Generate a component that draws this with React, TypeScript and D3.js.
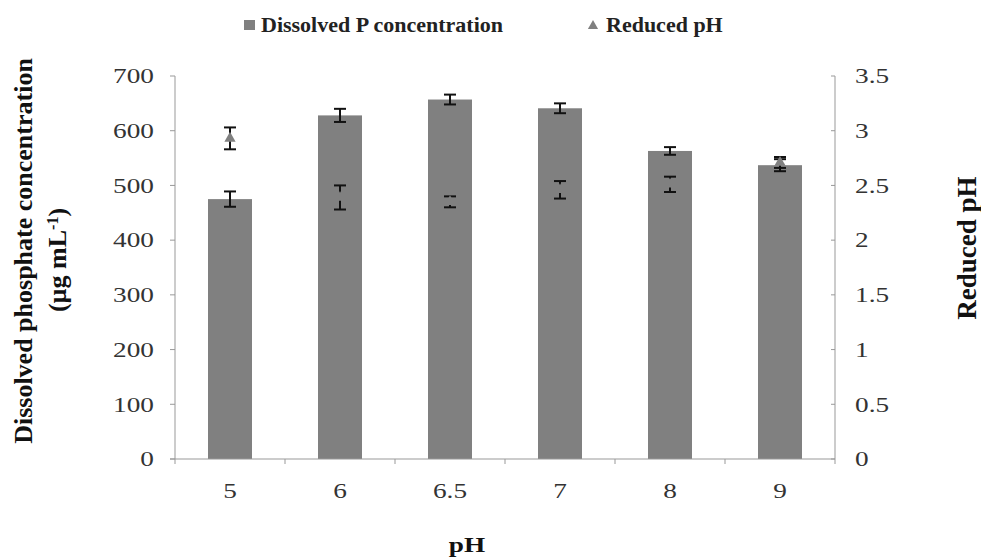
import React from "react";
import * as d3 from "d3";

const categories = ["5", "6", "6.5", "7", "8", "9"];
const phosphate = [475, 628, 657, 641, 563, 537];
const phosphateErr = [14, 12, 9, 9, 7, 11];
const reducedPH = [2.93, 2.39, 2.35, 2.46, 2.51, 2.71];
const reducedPHErr = [0.1, 0.11, 0.05, 0.08, 0.07, 0.05];
const leftTicks = [0, 100, 200, 300, 400, 500, 600, 700];
const rightTicks = [0, 0.5, 1, 1.5, 2, 2.5, 3, 3.5];

const W = 981, H = 558;
const M = { left: 175, right: 835, top: 76, bottom: 459 };
const font = "Liberation Serif, DejaVu Serif, serif";
const barColor = "#808080";
const axisColor = "#999999";
const textColor = "#333333";
const ts = { fontFamily: font };
const SX = 1.3;

export default function App() {
  const x = d3.scaleBand<string>().domain(categories).range([M.left, M.right]).paddingInner(0.6).paddingOuter(0.3);
  const band = d3.scaleBand<string>().domain(categories).range([M.left, M.right]);
  const yL = d3.scaleLinear().domain([0, 700]).range([M.bottom, M.top]);
  const yR = d3.scaleLinear().domain([0, 3.5]).range([M.bottom, M.top]);
  const cap = 6;
  const tri = d3.symbol().type(d3.symbolTriangle).size(55)();

  return (
    <svg width={W} height={H} style={{ position: "absolute", left: 0, top: 0, background: "#fff", fontFamily: font }}>
      {categories.map((c, i) => (
        <rect key={"b" + c} x={x(c)} y={yL(phosphate[i])} width={x.bandwidth()} height={yL(0) - yL(phosphate[i])} fill={barColor} />
      ))}
      <line x1={M.left} x2={M.left} y1={M.top} y2={M.bottom} stroke={axisColor} strokeWidth={1} />
      <line x1={M.right} x2={M.right} y1={M.top} y2={M.bottom} stroke={axisColor} strokeWidth={1} />
      <line x1={M.left - 5} x2={M.right} y1={M.bottom} y2={M.bottom} stroke={axisColor} strokeWidth={1} />
      {leftTicks.map((t) => (
        <g key={"l" + t}>
          <line x1={M.left - 5} x2={M.left} y1={yL(t)} y2={yL(t)} stroke={axisColor} />
          <g transform={`translate(154,${yL(t)}) scale(${SX},1)`}>
            <text style={ts} dy="0.35em" textAnchor="end" fontSize={21} fill={textColor}>{t}</text>
          </g>
        </g>
      ))}
      {rightTicks.map((t) => (
        <g key={"r" + t}>
          <line x1={M.right - 4} x2={M.right} y1={yR(t)} y2={yR(t)} stroke={axisColor} />
          <g transform={`translate(855,${yR(t)}) scale(${SX},1)`}>
            <text style={ts} dy="0.35em" textAnchor="start" fontSize={21} fill={textColor}>{t}</text>
          </g>
        </g>
      ))}
      {categories.map((c) => (
        <line key={"xt" + c} x1={band(c)} x2={band(c)} y1={M.bottom} y2={M.bottom + 5} stroke={axisColor} />
      ))}
      <line x1={M.right} x2={M.right} y1={M.bottom} y2={M.bottom + 5} stroke={axisColor} />
      {categories.map((c) => (
        <g key={"xl" + c} transform={`translate(${band(c)! + band.bandwidth() / 2},491) scale(${SX},1)`}>
          <text style={ts} dy="0.35em" textAnchor="middle" fontSize={21} fill={textColor}>{c}</text>
        </g>
      ))}
      {categories.map((c, i) => {
        const cx = x(c)! + x.bandwidth() / 2;
        const y1 = yL(phosphate[i] + phosphateErr[i]);
        const y2 = yL(phosphate[i] - phosphateErr[i]);
        return (
          <g key={"e" + c} stroke="#111" strokeWidth={2}>
            <line x1={cx} x2={cx} y1={y1} y2={y2} />
            <line x1={cx - cap} x2={cx + cap} y1={y1} y2={y1} />
            <line x1={cx - cap} x2={cx + cap} y1={y2} y2={y2} />
          </g>
        );
      })}
      {categories.map((c, i) => {
        const cx = x(c)! + x.bandwidth() / 2;
        const cy = yR(reducedPH[i]);
        const y1 = yR(reducedPH[i] + reducedPHErr[i]);
        const y2 = yR(reducedPH[i] - reducedPHErr[i]);
        return (
          <g key={"p" + c}>
            <g stroke="#111" strokeWidth={2}>
              <line x1={cx} x2={cx} y1={y1} y2={y2} />
              <line x1={cx - cap} x2={cx + cap} y1={y1} y2={y1} />
              <line x1={cx - cap} x2={cx + cap} y1={y2} y2={y2} />
            </g>
            <path d={tri!} transform={`translate(${cx},${cy})`} fill={barColor} />
          </g>
        );
      })}
      <rect x={244} y={20} width={11} height={10} fill={barColor} />
      <text style={ts} x={261} y={32} fontSize={22} fontWeight="bold" fill="#222">Dissolved P concentration</text>
      <path d={d3.symbol().type(d3.symbolTriangle).size(45)()!} transform="translate(593,26)" fill={barColor} />
      <text style={ts} x={606} y={32} fontSize={22} fontWeight="bold" fill="#222">Reduced pH</text>
      <g transform={`translate(467,552) scale(${SX},1)`}>
        <text style={ts} textAnchor="middle" fontSize={21} fontWeight="bold" fill="#111">pH</text>
      </g>
      <text style={ts} transform="translate(23,251) rotate(-90)" dy="0.35em" textAnchor="middle" fontSize={26} fontWeight="bold" fill="#111">Dissolved phosphate concentration</text>
      <text style={ts} transform="translate(57,260) rotate(-90)" dy="0.35em" textAnchor="middle" fontSize={26} fontWeight="bold" fill="#111">
        (µg mL<tspan baselineShift="super" fontSize={16}>-1</tspan>)
      </text>
      <text style={ts} transform="translate(967,248) rotate(-90)" dy="0.35em" textAnchor="middle" fontSize={27} fontWeight="bold" fill="#111">Reduced pH</text>
    </svg>
  );
}
